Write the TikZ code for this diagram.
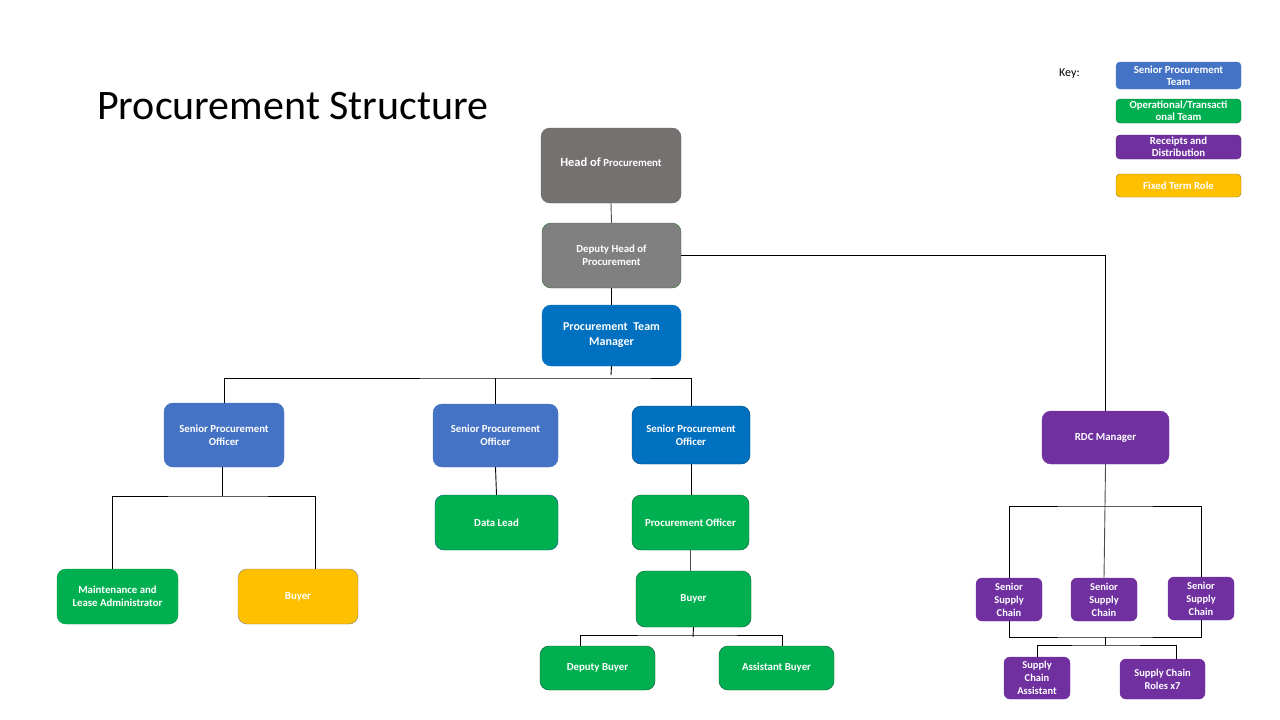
\documentclass[tikz,border=0pt]{standalone}
\usepackage{fontspec}
\setmainfont{Carlito}
\definecolor{cgrayA}{HTML}{767171}
\definecolor{cgrayB}{HTML}{808080}
\definecolor{cblueD}{HTML}{0070C0}
\definecolor{cblueL}{HTML}{4472C4}
\definecolor{cgreen}{HTML}{00B050}
\definecolor{cyellow}{HTML}{FFC000}
\definecolor{cpurple}{HTML}{7030A0}
\tikzset{
  box/.style={draw, rounded corners=9pt, text=white, align=center, inner sep=1pt,
    font=\bfseries\fontsize{10.8}{13}\selectfont},
  sbox/.style={box, rounded corners=6pt, font=\bfseries\fontsize{10.5}{13}\selectfont},
  kbox/.style={box, rounded corners=4pt, minimum width=125pt, font=\bfseries\fontsize{10.8}{12}\selectfont},
  conn/.style={draw=black, line width=0.9pt},
}
\begin{document}
\begin{tikzpicture}[x=1pt,y=-1pt]
\useasboundingbox (0,0) rectangle (1280,720);
% title
\node[anchor=west, font=\fontsize{42}{46}\selectfont, inner sep=0] (title) at (97,106) {Procurement Structure};
% key
\node[anchor=west, font=\fontsize{12}{14}\selectfont, inner sep=0] (keylbl) at (1059,74) {Key:};
\node[kbox, fill=cblueL, draw=cblueL, minimum height=27pt] (k1) at (1178.5,75.5) {Senior Procurement\\Team};
\node[kbox, fill=cgreen, draw=cgreen!60!black, minimum height=24pt] (k2) at (1178.5,111) {Operational/Transacti\\onal Team};
\node[kbox, fill=cpurple, draw=cpurple!60!black, minimum height=24pt] (k3) at (1178.5,147) {Receipts and\\Distribution};
\node[kbox, fill=cyellow, draw=cyellow!60!black, minimum height=23pt] (k4) at (1178.5,185.5) {Fixed Term Role};
% main chain
\node[box, fill=cgrayA, draw=cgrayA!85!black, minimum width=140pt, minimum height=75pt] (head) at (611,165.5)
  {\raisebox{7pt}{{\fontsize{12.5}{14}\selectfont Head of} {\fontsize{10.8}{13}\selectfont Procurement}}};
\node[box, fill=cgrayB, draw=black!60!green!60!gray, minimum width=139pt, minimum height=65pt] (dep) at (611.5,255.5) {Deputy Head of\\Procurement};
\node[box, fill=cblueD, draw=cblueD, minimum width=139pt, minimum height=61pt,
  font=\bfseries\fontsize{12}{15}\selectfont] (ptm) at (611.5,335.5) {Procurement\ \ Team\\Manager};
% senior officers
\node[box, fill=cblueL, draw=cblueL, minimum width=120pt, minimum height=64pt] (spo1) at (224,435) {Senior Procurement\\Officer};
\node[box, fill=cblueL, draw=cblueL, minimum width=125pt, minimum height=63pt] (spo2) at (495.5,435.5) {Senior Procurement\\Officer};
\node[box, fill=cblueD, draw=cblueD!60!black, minimum width=118pt, minimum height=58pt] (spo3) at (691,435) {Senior Procurement\\Officer};
% level 3
\node[box, fill=cgreen, draw=cgreen!85!black, minimum width=121pt, minimum height=55pt] (maint) at (117.5,596.5) {Maintenance and\\Lease Administrator};
\node[box, fill=cyellow, draw=gray, minimum width=120pt, minimum height=55pt] (buyY) at (298,596.5) {Buyer};
\node[box, fill=cgreen, draw=cblueD!70!black, minimum width=123pt, minimum height=55pt] (data) at (496.5,522.5) {Data Lead};
\node[box, fill=cgreen, draw=cgreen!50!black, minimum width=117pt, minimum height=55pt] (po) at (690.5,522.5) {Procurement Officer};
\node[box, fill=cgreen, draw=cgreen!50!black, minimum width=115pt, minimum height=56pt] (buyG) at (693.5,599) {Buyer};
\node[box, fill=cgreen, draw=cgreen!50!black, minimum width=115pt, minimum height=44pt] (dbuy) at (597.5,668) {Deputy Buyer};
\node[box, fill=cgreen, draw=cgreen!50!black, minimum width=115pt, minimum height=44pt] (abuy) at (776.5,668) {Assistant Buyer};
% RDC branch
\node[box, fill=cpurple, draw=cpurple, minimum width=127pt, minimum height=53pt] (rdc) at (1105.5,437.5) {RDC Manager};
\node[sbox, fill=cpurple, draw=cpurple, minimum width=66pt, minimum height=43pt] (ssc1) at (1009,599.5) {Senior\\Supply\\Chain};
\node[sbox, fill=cpurple, draw=cpurple, minimum width=66pt, minimum height=43pt] (ssc2) at (1104,599.5) {Senior\\Supply\\Chain};
\node[sbox, fill=cpurple, draw=cpurple, minimum width=66pt, minimum height=43pt] (ssc3) at (1201,598.5) {Senior\\Supply\\Chain};
\node[sbox, fill=cpurple, draw=cpurple, minimum width=66pt, minimum height=42pt] (sca) at (1037,678) {Supply\\Chain\\Assistant};
\node[sbox, fill=cpurple, draw=cpurple, minimum width=85pt, minimum height=40pt] (scr) at (1162.5,679) {Supply Chain\\Roles x7};
% connectors
\coordinate (busA) at (611,378);
\coordinate (busB) at (222,496);
\coordinate (busC) at (693,635);
\coordinate (busD) at (1105,506);
\coordinate (busE) at (1105,637);
\coordinate (busF) at (1105,645);
\draw[conn, draw=black!70] (head.south) -- (dep.north);
\draw[conn] (dep.south) -- (ptm.north);
\draw[conn] (ptm.south) -- ([yshift=3pt]busA);
\draw[conn] (spo1.north) |- (busA) -| (spo3.north);
\draw[conn] (spo2.north) -- (spo2.north |- busA);
\draw[conn] ([xshift=-2pt]spo1.south) -- (busB);
\draw[conn] ([xshift=-5.5pt]maint.north) |- (busB) -| ([xshift=17pt]buyY.north);
\draw[conn] (spo2.south) -- (data.north);
\draw[conn] (spo3.south) -- (spo3.south |- po.north);
\draw[conn, draw=black!70] (po.south) -- (po.south |- buyG.north);
\draw[conn] (buyG.south) -- ([yshift=-2pt]busC);
\draw[conn] ([xshift=-17.5pt]dbuy.north) |- (busC) -| ([xshift=5.5pt]abuy.north);
\draw[conn] (dep.east) -| (rdc.north);
\draw[conn, draw=black!70] (rdc.south) -- (busD);
\draw[conn] (ssc1.north) |- (busD) -| (ssc3.north);
\draw[conn, draw=black!70] (busD) -- (ssc2.north);
\draw[conn] (ssc1.south) |- (busE) -| (ssc3.south);
\draw[conn] (busE) -- (busF);
\draw[conn] (sca.north) |- (busF) -| ([xshift=13.5pt]scr.north);
\end{tikzpicture}
\end{document}
